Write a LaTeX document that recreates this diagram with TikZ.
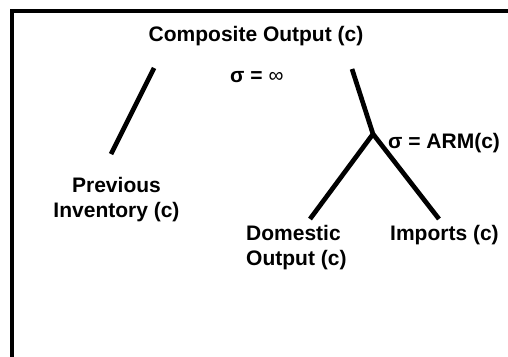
\documentclass[tikz,border=0pt]{standalone}
\usepackage{fontspec}
\setmainfont{Liberation Sans}
\begin{document}
\begin{tikzpicture}[x=1pt, y=-1pt, lbl/.style = {font=\bfseries\fontsize{21}{25}\selectfont, inner sep=0pt}, branch/.style = {draw=black, line width=4.7pt}]
            \useasboundingbox (0,0) rectangle (508,356);
            \clip (0,0) rectangle (508,356);
            \draw[draw=black, line width=4pt] (12,11) rectangle (540,400);
            \node[lbl, anchor=base] (comp) at (256,41) {Composite Output (c)};
            \node[lbl, anchor=base west] (sinf) at (230,82) {σ = {\mdseries ∞}};
            \node[lbl, anchor=base west] (sarm) at (388,148) {σ = ARM(c)};
            \node[lbl, align=center] (prev) at (116.5,199.5) {Previous\\Inventory (c)};
            \node[lbl, align=left, anchor=west] (dom) at (246,248) {Domestic\\Output (c)};
            \node[lbl, anchor=base west] (imp) at (390,240) {Imports (c)};
            \coordinate (prev-top) at (154,68);
            \coordinate (prev-end) at (111,154);
            \coordinate (dom-top) at (352,69);
            \coordinate (fork) at (373,134);
            \coordinate (dom-end) at (310,219);
            \coordinate (imp-end) at (439,219);
            \draw[branch] (prev-top) -- (prev-end);
            \draw[branch] (dom-top) -- (fork);
            \draw[branch] (fork) -- (dom-end);
            \draw[branch] (fork) -- (imp-end);
        \end{tikzpicture}
\end{document}
